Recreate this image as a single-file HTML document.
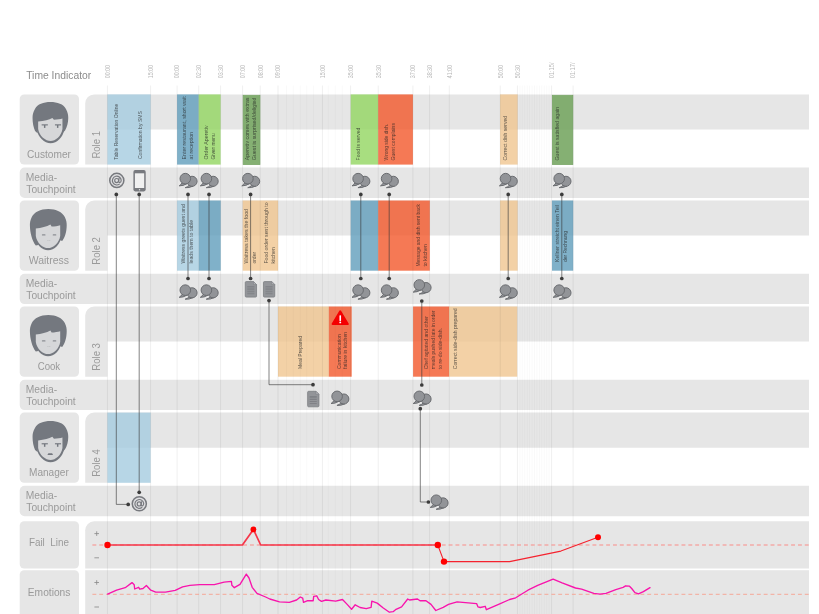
<!DOCTYPE html>
<html><head><meta charset="utf-8"><title>Service Blueprint</title>
<style>html,body{margin:0;padding:0;background:#fff;}body{width:819px;height:614px;overflow:hidden;font-family:"Liberation Sans",sans-serif;}svg{display:block;will-change:transform;}</style>
</head><body>
<svg width="819" height="614" viewBox="0 0 819 614" font-family="Liberation Sans, sans-serif">
<rect width="819" height="614" fill="#fff"/>
<text x="26.20" y="78.80" font-size="11.6" fill="#8c8c8c" text-anchor="start" textLength="65.0" lengthAdjust="spacingAndGlyphs" >Time Indicator</text>
<text transform="translate(109.75,78.3) rotate(-90)" font-size="6.3" fill="#b9b9b9" textLength="13.3" lengthAdjust="spacingAndGlyphs">00:00</text>
<text transform="translate(152.95,78.3) rotate(-90)" font-size="6.3" fill="#b9b9b9" textLength="13.3" lengthAdjust="spacingAndGlyphs">15:00</text>
<text transform="translate(179.45,78.3) rotate(-90)" font-size="6.3" fill="#b9b9b9" textLength="13.3" lengthAdjust="spacingAndGlyphs">00:00</text>
<text transform="translate(201.05,78.3) rotate(-90)" font-size="6.3" fill="#b9b9b9" textLength="13.3" lengthAdjust="spacingAndGlyphs">02:30</text>
<text transform="translate(222.95,78.3) rotate(-90)" font-size="6.3" fill="#b9b9b9" textLength="13.3" lengthAdjust="spacingAndGlyphs">03:30</text>
<text transform="translate(244.95,78.3) rotate(-90)" font-size="6.3" fill="#b9b9b9" textLength="13.3" lengthAdjust="spacingAndGlyphs">07:00</text>
<text transform="translate(262.55,78.3) rotate(-90)" font-size="6.3" fill="#b9b9b9" textLength="13.3" lengthAdjust="spacingAndGlyphs">08:00</text>
<text transform="translate(280.35,78.3) rotate(-90)" font-size="6.3" fill="#b9b9b9" textLength="13.3" lengthAdjust="spacingAndGlyphs">09:00</text>
<text transform="translate(324.75,78.3) rotate(-90)" font-size="6.3" fill="#b9b9b9" textLength="13.3" lengthAdjust="spacingAndGlyphs">15:00</text>
<text transform="translate(352.95,78.3) rotate(-90)" font-size="6.3" fill="#b9b9b9" textLength="13.3" lengthAdjust="spacingAndGlyphs">35:00</text>
<text transform="translate(380.55,78.3) rotate(-90)" font-size="6.3" fill="#b9b9b9" textLength="13.3" lengthAdjust="spacingAndGlyphs">35:30</text>
<text transform="translate(415.25,78.3) rotate(-90)" font-size="6.3" fill="#b9b9b9" textLength="13.3" lengthAdjust="spacingAndGlyphs">37:00</text>
<text transform="translate(431.95,78.3) rotate(-90)" font-size="6.3" fill="#b9b9b9" textLength="13.3" lengthAdjust="spacingAndGlyphs">38:30</text>
<text transform="translate(451.65,78.3) rotate(-90)" font-size="6.3" fill="#b9b9b9" textLength="13.3" lengthAdjust="spacingAndGlyphs">41:00</text>
<text transform="translate(502.55,78.3) rotate(-90)" font-size="6.3" fill="#b9b9b9" textLength="13.3" lengthAdjust="spacingAndGlyphs">50:00</text>
<text transform="translate(519.75,78.3) rotate(-90)" font-size="6.3" fill="#b9b9b9" textLength="13.3" lengthAdjust="spacingAndGlyphs">50:30</text>
<text transform="translate(553.95,78.3) rotate(-90)" font-size="6.3" fill="#b9b9b9" textLength="15.8" lengthAdjust="spacingAndGlyphs">01:15/</text>
<text transform="translate(575.45,78.3) rotate(-90)" font-size="6.3" fill="#b9b9b9" textLength="15.8" lengthAdjust="spacingAndGlyphs">01:17/</text>
<path d="M24.2,94.4 H74.5 A4.5,4.5 0 0 1 79.0,98.9 V160.10000000000002 A4.5,4.5 0 0 1 74.5,164.60000000000002 H24.2 A4.5,4.5 0 0 1 19.7,160.10000000000002 V98.9 A4.5,4.5 0 0 1 24.2,94.4 Z" fill="#e6e6e6"/>
<path d="M85.2,103.4 A9,9 0 0 1 94.2,94.4 H809.0 V129.5 H107.4 V164.60000000000002 H85.2 Z" fill="#e6e6e6"/>
<path d="M24.7,167.60000000000002 H809.0 V198.00000000000003 H24.7 A5,5 0 0 1 19.7,193.00000000000003 V172.60000000000002 A5,5 0 0 1 24.7,167.60000000000002 Z" fill="#e6e6e6"/>
<text x="27.00" y="158.00" font-size="10.8" fill="#9a9a9a" text-anchor="start" textLength="44.0" lengthAdjust="spacingAndGlyphs" >Customer</text>
<text transform="translate(100.3,158.60) rotate(-90)" font-size="11.3" fill="#9a9a9a" textLength="27.6" lengthAdjust="spacingAndGlyphs">Role 1</text>
<text x="25.70" y="180.70" font-size="11.0" fill="#9a9a9a" text-anchor="start" textLength="31.4" lengthAdjust="spacingAndGlyphs" >Media-</text>
<text x="26.30" y="192.90" font-size="11.0" fill="#9a9a9a" text-anchor="start" textLength="49.4" lengthAdjust="spacingAndGlyphs" >Touchpoint</text>
<path d="M24.2,200.5 H74.5 A4.5,4.5 0 0 1 79.0,205.0 V266.2 A4.5,4.5 0 0 1 74.5,270.7 H24.2 A4.5,4.5 0 0 1 19.7,266.2 V205.0 A4.5,4.5 0 0 1 24.2,200.5 Z" fill="#e6e6e6"/>
<path d="M85.2,209.5 A9,9 0 0 1 94.2,200.5 H809.0 V235.6 H107.4 V270.7 H85.2 Z" fill="#e6e6e6"/>
<path d="M24.7,273.7 H809.0 V304.09999999999997 H24.7 A5,5 0 0 1 19.7,299.09999999999997 V278.7 A5,5 0 0 1 24.7,273.7 Z" fill="#e6e6e6"/>
<text x="28.70" y="264.10" font-size="10.8" fill="#9a9a9a" text-anchor="start" textLength="40.3" lengthAdjust="spacingAndGlyphs" >Waitress</text>
<text transform="translate(100.3,264.70) rotate(-90)" font-size="11.3" fill="#9a9a9a" textLength="27.6" lengthAdjust="spacingAndGlyphs">Role 2</text>
<text x="25.70" y="286.80" font-size="11.0" fill="#9a9a9a" text-anchor="start" textLength="31.4" lengthAdjust="spacingAndGlyphs" >Media-</text>
<text x="26.30" y="299.00" font-size="11.0" fill="#9a9a9a" text-anchor="start" textLength="49.4" lengthAdjust="spacingAndGlyphs" >Touchpoint</text>
<path d="M24.2,306.5 H74.5 A4.5,4.5 0 0 1 79.0,311.0 V372.2 A4.5,4.5 0 0 1 74.5,376.7 H24.2 A4.5,4.5 0 0 1 19.7,372.2 V311.0 A4.5,4.5 0 0 1 24.2,306.5 Z" fill="#e6e6e6"/>
<path d="M85.2,315.5 A9,9 0 0 1 94.2,306.5 H809.0 V341.6 H107.4 V376.7 H85.2 Z" fill="#e6e6e6"/>
<path d="M24.7,379.7 H809.0 V410.09999999999997 H24.7 A5,5 0 0 1 19.7,405.09999999999997 V384.7 A5,5 0 0 1 24.7,379.7 Z" fill="#e6e6e6"/>
<text x="37.70" y="370.10" font-size="10.8" fill="#9a9a9a" text-anchor="start" textLength="22.5" lengthAdjust="spacingAndGlyphs" >Cook</text>
<text transform="translate(100.3,370.70) rotate(-90)" font-size="11.3" fill="#9a9a9a" textLength="27.6" lengthAdjust="spacingAndGlyphs">Role 3</text>
<text x="25.70" y="392.80" font-size="11.0" fill="#9a9a9a" text-anchor="start" textLength="31.4" lengthAdjust="spacingAndGlyphs" >Media-</text>
<text x="26.30" y="405.00" font-size="11.0" fill="#9a9a9a" text-anchor="start" textLength="49.4" lengthAdjust="spacingAndGlyphs" >Touchpoint</text>
<path d="M24.2,412.6 H74.5 A4.5,4.5 0 0 1 79.0,417.1 V478.3 A4.5,4.5 0 0 1 74.5,482.8 H24.2 A4.5,4.5 0 0 1 19.7,478.3 V417.1 A4.5,4.5 0 0 1 24.2,412.6 Z" fill="#e6e6e6"/>
<path d="M85.2,421.6 A9,9 0 0 1 94.2,412.6 H809.0 V447.70000000000005 H107.4 V482.8 H85.2 Z" fill="#e6e6e6"/>
<path d="M24.7,485.8 H809.0 V516.2 H24.7 A5,5 0 0 1 19.7,511.20000000000005 V490.8 A5,5 0 0 1 24.7,485.8 Z" fill="#e6e6e6"/>
<text x="29.00" y="476.20" font-size="10.8" fill="#9a9a9a" text-anchor="start" textLength="39.8" lengthAdjust="spacingAndGlyphs" >Manager</text>
<text transform="translate(100.3,476.80) rotate(-90)" font-size="11.3" fill="#9a9a9a" textLength="27.6" lengthAdjust="spacingAndGlyphs">Role 4</text>
<text x="25.70" y="498.90" font-size="11.0" fill="#9a9a9a" text-anchor="start" textLength="31.4" lengthAdjust="spacingAndGlyphs" >Media-</text>
<text x="26.30" y="511.10" font-size="11.0" fill="#9a9a9a" text-anchor="start" textLength="49.4" lengthAdjust="spacingAndGlyphs" >Touchpoint</text>
<g transform="translate(50.45,102.0)"><path d="M-13.6,12 L-13.6,28 C-12.6,35 -6,41.3 0.2,41.3 C6.4,41.3 12.8,35 13.6,28 L13.6,12 Z" fill="#74787f"/><path d="M0,0 C7,0 13,2 15.5,7 C17.4,10.5 17.8,13 17.8,16 C17.8,21 16.6,25 14.6,28.4 L12.6,30.6 L12,18 L-12,18 L-12.9,31.2 L-15.4,29 C-17,25 -17.9,21 -17.9,16 C-17.9,13 -17.5,10.5 -15.5,7 C-13,2 -7,0 0,0 Z" fill="#74787f"/><path d="M-12.3,19.6 C-6,18.8 -1.5,17.5 1.9,15.9 L3.5,17.8 C7,17.6 10,17.2 12,16.6 L12,27 C11,34 5,39.1 0.2,39.1 C-4.8,39.1 -11.3,34 -12.3,27 Z" fill="#d6d7d9"/><g fill="#74787f"><rect x="-8.8" y="22.3" width="6.2" height="1.15"/><rect x="-6.5" y="23" width="1.45" height="2.9"/><rect x="4.5" y="22.3" width="6.1" height="1.15"/><rect x="6.5" y="23" width="1.45" height="2.9"/></g></g>
<g transform="translate(48.3,208.9)"><path d="M-13.6,12 L-13.7,27 C-13,35 -6,41.3 -0.3,41.3 C6,41.3 12.4,35 13.2,27 L13.2,12 Z" fill="#74787f"/><path d="M0,0 C8,0 14,3 16.5,8 C18.2,11.5 18.4,14 18.4,16 C18.4,23 16.6,28.5 13.9,32 L11.4,31.2 L11.9,18 L-12.5,18 L-10.0,36.0 L-12.5,36.5 C-16,32 -18.4,24 -18.4,16 C-18.4,14 -18.2,11.5 -16.5,8 C-14,3 -8,0 0,0 Z" fill="#74787f"/><path d="M-12.5,19.7 C-7,19 -1.5,17.6 2.1,15.6 L3.3,17.7 C6.5,17.6 9.5,17.1 11.9,16.4 L11.9,27 C11,34 4.6,39.2 -0.3,39.2 C-5.2,39.2 -11.6,34 -12.5,27 Z" fill="#d6d7d9"/><g fill="#8b8e93"><rect x="-6.4" y="25.3" width="3.6" height="1.4" rx="0.6"/><rect x="4.4" y="25.3" width="3.6" height="1.4" rx="0.6"/></g><rect x="-0.9" y="31.2" width="1.1" height="0.6" fill="#b4b5b8"/><rect x="0.9" y="31.2" width="1.1" height="0.6" fill="#b4b5b8"/></g>
<g transform="translate(48.3,314.9)"><path d="M-13.6,12 L-13.7,27 C-13,35 -6,41.3 -0.3,41.3 C6,41.3 12.4,35 13.2,27 L13.2,12 Z" fill="#74787f"/><path d="M0,0 C8,0 14,3 16.5,8 C18.2,11.5 18.4,14 18.4,16 C18.4,23 16.6,28.5 13.9,32 L11.4,31.2 L11.9,18 L-12.5,18 L-10.0,36.0 L-12.5,36.5 C-16,32 -18.4,24 -18.4,16 C-18.4,14 -18.2,11.5 -16.5,8 C-14,3 -8,0 0,0 Z" fill="#74787f"/><path d="M-12.5,19.7 C-7,19 -1.5,17.6 2.1,15.6 L3.3,17.7 C6.5,17.6 9.5,17.1 11.9,16.4 L11.9,27 C11,34 4.6,39.2 -0.3,39.2 C-5.2,39.2 -11.6,34 -12.5,27 Z" fill="#d6d7d9"/><g fill="#8b8e93"><rect x="-6.4" y="25.3" width="3.6" height="1.4" rx="0.6"/><rect x="4.4" y="25.3" width="3.6" height="1.4" rx="0.6"/></g><rect x="-0.9" y="31.2" width="1.1" height="0.6" fill="#b4b5b8"/><rect x="0.9" y="31.2" width="1.1" height="0.6" fill="#b4b5b8"/></g>
<g transform="translate(50.45,420.9)"><path d="M-13.6,12 L-13.6,28 C-12.6,35 -6,41.3 0.2,41.3 C6.4,41.3 12.8,35 13.6,28 L13.6,12 Z" fill="#74787f"/><path d="M0,0 C7,0 13,2 15.5,7 C17.4,10.5 17.8,13 17.8,16 C17.8,21 16.6,25 14.6,28.4 L12.6,30.6 L12,18 L-12,18 L-12.9,31.2 L-15.4,29 C-17,25 -17.9,21 -17.9,16 C-17.9,13 -17.5,10.5 -15.5,7 C-13,2 -7,0 0,0 Z" fill="#74787f"/><path d="M-12.3,19.6 C-6,18.8 -1.5,17.5 1.9,15.9 L3.5,17.8 C7,17.6 10,17.2 12,16.6 L12,27 C11,34 5,39.1 0.2,39.1 C-4.8,39.1 -11.3,34 -12.3,27 Z" fill="#d6d7d9"/><g fill="#74787f"><rect x="-8.8" y="22.3" width="6.2" height="1.15"/><rect x="-6.5" y="23" width="1.45" height="2.9"/><rect x="4.5" y="22.3" width="6.1" height="1.15"/><rect x="6.5" y="23" width="1.45" height="2.9"/><path d="M-3.0,34.1 L-2.1,32.3 H1.7 L2.6,34.1 Z"/></g></g>
<path d="M24.2,521.3 H74.5 A4.5,4.5 0 0 1 79.0,525.8 V564.1 A4.5,4.5 0 0 1 74.5,568.6 H24.2 A4.5,4.5 0 0 1 19.7,564.1 V525.8 A4.5,4.5 0 0 1 24.2,521.3 Z" fill="#e6e6e6"/>
<path d="M94.2,521.3 H809.0 V568.6 H85.2 V530.3 A9,9 0 0 1 94.2,521.3 Z" fill="#e6e6e6"/>
<path d="M24.2,570.2 H74.5 A4.5,4.5 0 0 1 79.0,574.7 V619.5 A4.5,4.5 0 0 1 74.5,624 H24.2 A4.5,4.5 0 0 1 19.7,619.5 V574.7 A4.5,4.5 0 0 1 24.2,570.2 Z" fill="#e6e6e6"/>
<rect x="85.2" y="570.2" width="723.8" height="48.799999999999955" fill="#e6e6e6"/>
<text x="28.9" y="546.3" font-size="11.6" fill="#9a9a9a" textLength="40" lengthAdjust="spacingAndGlyphs" style="white-space:pre">Fail  Line</text>
<text x="27.80" y="595.80" font-size="11.6" fill="#9a9a9a" text-anchor="start" textLength="42.6" lengthAdjust="spacingAndGlyphs" >Emotions</text>
<path d="M94.4,533.6 h4.6 M96.7,531.3000000000001 v4.6" stroke="#8c8c8c" stroke-width="0.85" fill="none"/>
<path d="M94.4,582.5 h4.6 M96.7,580.2 v4.6" stroke="#8c8c8c" stroke-width="0.85" fill="none"/>
<path d="M94.4,557.8 h4.6" stroke="#8c8c8c" stroke-width="0.85" fill="none"/>
<path d="M94.4,607.0 h4.6" stroke="#8c8c8c" stroke-width="0.85" fill="none"/>
<rect x="107.4" y="94.4" width="43.19999999999999" height="70.2" fill="rgba(163,203,223,0.78)"/>
<rect x="177.1" y="94.4" width="21.599999999999994" height="70.2" fill="rgba(96,158,188,0.80)"/>
<rect x="198.7" y="94.4" width="21.900000000000006" height="70.2" fill="rgba(146,214,96,0.80)"/>
<rect x="243.20000000000002" y="95.30000000000001" width="16.7" height="69.2" fill="rgba(112,162,90,0.85)" stroke="#7ba768" stroke-width="0.8"/>
<rect x="350.7" y="94.4" width="27.5" height="70.2" fill="rgba(146,214,96,0.80)"/>
<rect x="378.2" y="94.4" width="34.69999999999999" height="70.2" fill="rgba(243,88,43,0.80)"/>
<rect x="500.1" y="94.4" width="17.5" height="70.2" fill="rgba(239,196,141,0.78)"/>
<rect x="552.4" y="95.30000000000001" width="20.400000000000045" height="69.2" fill="rgba(112,162,90,0.85)" stroke="#7ba768" stroke-width="0.8"/>
<rect x="177.1" y="200.5" width="21.700000000000017" height="70.2" fill="rgba(163,203,223,0.78)"/>
<rect x="198.8" y="200.5" width="21.899999999999977" height="70.2" fill="rgba(96,158,188,0.80)"/>
<rect x="242.7" y="200.5" width="35.400000000000034" height="70.2" fill="rgba(239,196,141,0.78)"/>
<rect x="350.7" y="200.5" width="27.5" height="70.2" fill="rgba(96,158,188,0.80)"/>
<rect x="378.2" y="200.5" width="51.60000000000002" height="70.2" fill="rgba(243,88,43,0.80)"/>
<rect x="500.1" y="200.5" width="17.5" height="70.2" fill="rgba(239,196,141,0.78)"/>
<rect x="552.0" y="200.5" width="21.200000000000045" height="70.2" fill="rgba(96,158,188,0.80)"/>
<rect x="278.0" y="306.5" width="50.80000000000001" height="70.2" fill="rgba(239,196,141,0.78)"/>
<rect x="328.8" y="306.5" width="22.899999999999977" height="70.2" fill="rgba(243,88,43,0.80)"/>
<rect x="413.1" y="306.5" width="36.0" height="70.2" fill="rgba(243,88,43,0.80)"/>
<rect x="449.1" y="306.5" width="68.10000000000002" height="70.2" fill="rgba(239,196,141,0.78)"/>
<rect x="107.4" y="412.6" width="43.19999999999999" height="70.2" fill="rgba(163,203,223,0.78)"/>
<text transform="translate(118.20,159.70) rotate(-90)" font-size="5.0" fill="#222" fill-opacity="0.72" textLength="56.0" lengthAdjust="spacingAndGlyphs">Table Reservation Online</text>
<text transform="translate(141.70,159.10) rotate(-90)" font-size="5.0" fill="#222" fill-opacity="0.72" textLength="48.0" lengthAdjust="spacingAndGlyphs">Confirmation by SMS</text>
<text transform="translate(185.60,159.40) rotate(-90)" font-size="5.0" fill="#222" fill-opacity="0.72" textLength="63.0" lengthAdjust="spacingAndGlyphs">Enter restaurant, short wait</text>
<text transform="translate(192.90,159.40) rotate(-90)" font-size="5.0" fill="#222" fill-opacity="0.72" textLength="27.5" lengthAdjust="spacingAndGlyphs">at reception</text>
<text transform="translate(207.60,159.40) rotate(-90)" font-size="5.0" fill="#222" fill-opacity="0.72" textLength="34.0" lengthAdjust="spacingAndGlyphs">Order Aperetiv</text>
<text transform="translate(214.90,159.40) rotate(-90)" font-size="5.0" fill="#222" fill-opacity="0.72" textLength="26.0" lengthAdjust="spacingAndGlyphs">Given menu</text>
<text transform="translate(248.70,160.20) rotate(-90)" font-size="5.0" fill="#222" fill-opacity="0.72" textLength="62.7" lengthAdjust="spacingAndGlyphs">Aperetiv comes with extras</text>
<text transform="translate(255.80,160.20) rotate(-90)" font-size="5.0" fill="#222" fill-opacity="0.72" textLength="62.7" lengthAdjust="spacingAndGlyphs">Guest is surprised/deligted</text>
<text transform="translate(359.70,160.40) rotate(-90)" font-size="5.0" fill="#222" fill-opacity="0.72" textLength="32.6" lengthAdjust="spacingAndGlyphs">Food is served</text>
<text transform="translate(388.30,160.40) rotate(-90)" font-size="5.0" fill="#222" fill-opacity="0.72" textLength="36.4" lengthAdjust="spacingAndGlyphs">Wrong side dish.</text>
<text transform="translate(395.30,160.40) rotate(-90)" font-size="5.0" fill="#222" fill-opacity="0.72" textLength="37.3" lengthAdjust="spacingAndGlyphs">Guest complains</text>
<text transform="translate(507.20,160.40) rotate(-90)" font-size="5.0" fill="#222" fill-opacity="0.72" textLength="44.6" lengthAdjust="spacingAndGlyphs">Correct dish served</text>
<text transform="translate(558.50,160.40) rotate(-90)" font-size="5.0" fill="#222" fill-opacity="0.72" textLength="53.5" lengthAdjust="spacingAndGlyphs">Guest is satisfied again</text>
<text transform="translate(185.40,263.60) rotate(-90)" font-size="5.0" fill="#222" fill-opacity="0.72" textLength="59.4" lengthAdjust="spacingAndGlyphs">Waitress greets guest and</text>
<text transform="translate(192.70,263.60) rotate(-90)" font-size="5.0" fill="#222" fill-opacity="0.72" textLength="43.6" lengthAdjust="spacingAndGlyphs">leads them to table</text>
<text transform="translate(248.40,263.60) rotate(-90)" font-size="5.0" fill="#222" fill-opacity="0.72" textLength="54.6" lengthAdjust="spacingAndGlyphs">Waitress takes the food</text>
<text transform="translate(255.70,263.60) rotate(-90)" font-size="5.0" fill="#222" fill-opacity="0.72" textLength="11.7" lengthAdjust="spacingAndGlyphs">order</text>
<text transform="translate(268.20,263.60) rotate(-90)" font-size="5.0" fill="#222" fill-opacity="0.72" textLength="61.2" lengthAdjust="spacingAndGlyphs">Food order sent through to</text>
<text transform="translate(274.80,263.60) rotate(-90)" font-size="5.0" fill="#222" fill-opacity="0.72" textLength="16.5" lengthAdjust="spacingAndGlyphs">kitchen</text>
<text transform="translate(420.30,266.60) rotate(-90)" font-size="5.0" fill="#222" fill-opacity="0.72" textLength="62.5" lengthAdjust="spacingAndGlyphs">Message and dish sent back</text>
<text transform="translate(427.10,266.60) rotate(-90)" font-size="5.0" fill="#222" fill-opacity="0.72" textLength="22.4" lengthAdjust="spacingAndGlyphs">to kitchen</text>
<text transform="translate(559.00,261.90) rotate(-90)" font-size="5.0" fill="#222" fill-opacity="0.72" textLength="56.8" lengthAdjust="spacingAndGlyphs">Kellner streicht einen Teil</text>
<text transform="translate(566.70,261.90) rotate(-90)" font-size="5.0" fill="#222" fill-opacity="0.72" textLength="30.9" lengthAdjust="spacingAndGlyphs">der Rechnung</text>
<text transform="translate(301.90,369.00) rotate(-90)" font-size="5.0" fill="#222" fill-opacity="0.72" textLength="33.0" lengthAdjust="spacingAndGlyphs">Meal Prepared</text>
<text transform="translate(340.60,369.00) rotate(-90)" font-size="5.0" fill="#222" fill-opacity="0.72" textLength="34.7" lengthAdjust="spacingAndGlyphs">Communication</text>
<text transform="translate(347.30,369.00) rotate(-90)" font-size="5.0" fill="#222" fill-opacity="0.72" textLength="37.2" lengthAdjust="spacingAndGlyphs">failure in kitchen</text>
<text transform="translate(428.20,369.20) rotate(-90)" font-size="5.0" fill="#222" fill-opacity="0.72" textLength="53.2" lengthAdjust="spacingAndGlyphs">Chef agitated and other</text>
<text transform="translate(435.40,369.20) rotate(-90)" font-size="5.0" fill="#222" fill-opacity="0.72" textLength="59.0" lengthAdjust="spacingAndGlyphs">meals pushed late in order</text>
<text transform="translate(442.40,369.20) rotate(-90)" font-size="5.0" fill="#222" fill-opacity="0.72" textLength="41.3" lengthAdjust="spacingAndGlyphs">to re-do side-dish.</text>
<text transform="translate(456.80,369.20) rotate(-90)" font-size="5.0" fill="#222" fill-opacity="0.72" textLength="60.8" lengthAdjust="spacingAndGlyphs">Correct side-dish prepared</text>
<path d="M340.2,311.3 L347.8,324.1 H332.59999999999997 Z" fill="#f50000" stroke="#f50000" stroke-width="2" stroke-linejoin="round"/><rect x="339.45" y="315.2" width="1.6" height="5.9" rx="0.6" fill="#fff"/><circle cx="340.25" cy="322.40000000000003" r="0.95" fill="#fff"/>
<rect x="106.90" y="85.5" width="1" height="528.5" fill="#000" fill-opacity="0.062"/>
<rect x="150.10" y="85.5" width="1" height="528.5" fill="#000" fill-opacity="0.062"/>
<rect x="176.60" y="85.5" width="1" height="528.5" fill="#000" fill-opacity="0.062"/>
<rect x="198.20" y="85.5" width="1" height="528.5" fill="#000" fill-opacity="0.062"/>
<rect x="220.10" y="85.5" width="1" height="528.5" fill="#000" fill-opacity="0.062"/>
<rect x="242.10" y="85.5" width="1" height="528.5" fill="#000" fill-opacity="0.062"/>
<rect x="259.70" y="85.5" width="1" height="528.5" fill="#000" fill-opacity="0.062"/>
<rect x="277.50" y="85.5" width="1" height="528.5" fill="#000" fill-opacity="0.062"/>
<rect x="321.90" y="85.5" width="1" height="528.5" fill="#000" fill-opacity="0.062"/>
<rect x="350.10" y="85.5" width="1" height="528.5" fill="#000" fill-opacity="0.062"/>
<rect x="377.70" y="85.5" width="1" height="528.5" fill="#000" fill-opacity="0.062"/>
<rect x="412.40" y="85.5" width="1" height="528.5" fill="#000" fill-opacity="0.062"/>
<rect x="429.10" y="85.5" width="1" height="528.5" fill="#000" fill-opacity="0.062"/>
<rect x="448.80" y="85.5" width="1" height="528.5" fill="#000" fill-opacity="0.062"/>
<rect x="499.70" y="85.5" width="1" height="528.5" fill="#000" fill-opacity="0.062"/>
<rect x="516.90" y="85.5" width="1" height="528.5" fill="#000" fill-opacity="0.062"/>
<rect x="551.10" y="85.5" width="1" height="528.5" fill="#000" fill-opacity="0.062"/>
<rect x="572.60" y="85.5" width="1" height="528.5" fill="#000" fill-opacity="0.062"/>
<rect x="286.00" y="85.5" width="1" height="528.5" fill="#000" fill-opacity="0.024"/>
<rect x="292.80" y="85.5" width="1" height="528.5" fill="#000" fill-opacity="0.024"/>
<rect x="299.70" y="85.5" width="1" height="528.5" fill="#000" fill-opacity="0.024"/>
<rect x="306.20" y="85.5" width="1" height="528.5" fill="#000" fill-opacity="0.024"/>
<rect x="313.10" y="85.5" width="1" height="528.5" fill="#000" fill-opacity="0.024"/>
<rect x="327.70" y="85.5" width="1" height="528.5" fill="#000" fill-opacity="0.024"/>
<rect x="334.80" y="85.5" width="1" height="528.5" fill="#000" fill-opacity="0.024"/>
<rect x="341.80" y="85.5" width="1" height="528.5" fill="#000" fill-opacity="0.024"/>
<rect x="519.34" y="85.5" width="1" height="528.5" fill="#000" fill-opacity="0.024"/>
<rect x="521.79" y="85.5" width="1" height="528.5" fill="#000" fill-opacity="0.024"/>
<rect x="524.23" y="85.5" width="1" height="528.5" fill="#000" fill-opacity="0.024"/>
<rect x="526.67" y="85.5" width="1" height="528.5" fill="#000" fill-opacity="0.024"/>
<rect x="529.12" y="85.5" width="1" height="528.5" fill="#000" fill-opacity="0.024"/>
<rect x="531.56" y="85.5" width="1" height="528.5" fill="#000" fill-opacity="0.024"/>
<rect x="534.00" y="85.5" width="1" height="528.5" fill="#000" fill-opacity="0.024"/>
<rect x="536.44" y="85.5" width="1" height="528.5" fill="#000" fill-opacity="0.024"/>
<rect x="538.89" y="85.5" width="1" height="528.5" fill="#000" fill-opacity="0.024"/>
<rect x="541.33" y="85.5" width="1" height="528.5" fill="#000" fill-opacity="0.024"/>
<rect x="543.77" y="85.5" width="1" height="528.5" fill="#000" fill-opacity="0.024"/>
<rect x="546.22" y="85.5" width="1" height="528.5" fill="#000" fill-opacity="0.024"/>
<rect x="548.66" y="85.5" width="1" height="528.5" fill="#000" fill-opacity="0.024"/>
<path d="M188.0,194.4 L188.0,278.5" fill="none" stroke="#383838" stroke-opacity="0.62" stroke-width="1"/>
<circle cx="188.0" cy="194.4" r="1.85" fill="#3c3c3c"/>
<circle cx="188.0" cy="278.5" r="1.85" fill="#3c3c3c"/>
<path d="M209.0,194.4 L209.0,278.5" fill="none" stroke="#383838" stroke-opacity="0.62" stroke-width="1"/>
<circle cx="209.0" cy="194.4" r="1.85" fill="#3c3c3c"/>
<circle cx="209.0" cy="278.5" r="1.85" fill="#3c3c3c"/>
<path d="M250.6,194.4 L250.6,278.5" fill="none" stroke="#383838" stroke-opacity="0.62" stroke-width="1"/>
<circle cx="250.6" cy="194.4" r="1.85" fill="#3c3c3c"/>
<circle cx="250.6" cy="278.5" r="1.85" fill="#3c3c3c"/>
<path d="M360.8,194.4 L360.8,278.5" fill="none" stroke="#383838" stroke-opacity="0.62" stroke-width="1"/>
<circle cx="360.8" cy="194.4" r="1.85" fill="#3c3c3c"/>
<circle cx="360.8" cy="278.5" r="1.85" fill="#3c3c3c"/>
<path d="M389.2,194.4 L389.2,278.5" fill="none" stroke="#383838" stroke-opacity="0.62" stroke-width="1"/>
<circle cx="389.2" cy="194.4" r="1.85" fill="#3c3c3c"/>
<circle cx="389.2" cy="278.5" r="1.85" fill="#3c3c3c"/>
<path d="M508.2,194.4 L508.2,278.5" fill="none" stroke="#383838" stroke-opacity="0.62" stroke-width="1"/>
<circle cx="508.2" cy="194.4" r="1.85" fill="#3c3c3c"/>
<circle cx="508.2" cy="278.5" r="1.85" fill="#3c3c3c"/>
<path d="M561.8,194.4 L561.8,278.5" fill="none" stroke="#383838" stroke-opacity="0.62" stroke-width="1"/>
<circle cx="561.8" cy="194.4" r="1.85" fill="#3c3c3c"/>
<circle cx="561.8" cy="278.5" r="1.85" fill="#3c3c3c"/>
<path d="M116.3,194.4 L116.3,504.4 L128.0,504.4" fill="none" stroke="#383838" stroke-opacity="0.62" stroke-width="1"/>
<circle cx="116.3" cy="194.4" r="1.85" fill="#3c3c3c"/>
<circle cx="128.2" cy="504.4" r="1.85" fill="#3c3c3c"/>
<path d="M139.2,194.4 L139.2,492.3" fill="none" stroke="#383838" stroke-opacity="0.62" stroke-width="1"/>
<circle cx="139.2" cy="194.4" r="1.85" fill="#3c3c3c"/>
<circle cx="139.2" cy="492.3" r="1.85" fill="#3c3c3c"/>
<path d="M269.0,300.6 L269.0,384.7 L313.0,384.7" fill="none" stroke="#383838" stroke-opacity="0.62" stroke-width="1"/>
<circle cx="269.0" cy="300.6" r="1.85" fill="#3c3c3c"/>
<circle cx="313.0" cy="384.7" r="1.85" fill="#3c3c3c"/>
<path d="M421.8,301.0 L421.8,385.0" fill="none" stroke="#383838" stroke-opacity="0.62" stroke-width="1"/>
<circle cx="421.8" cy="301.0" r="1.85" fill="#3c3c3c"/>
<circle cx="421.8" cy="385.0" r="1.85" fill="#3c3c3c"/>
<path d="M420.3,408.7 L420.3,502.0 L428.4,502.0" fill="none" stroke="#383838" stroke-opacity="0.62" stroke-width="1"/>
<circle cx="420.3" cy="408.7" r="1.85" fill="#3c3c3c"/>
<circle cx="428.4" cy="502.0" r="1.85" fill="#3c3c3c"/>
<circle cx="116.8" cy="180.4" r="7.05" fill="#dedee0" stroke="#77797e" stroke-width="1.5"/><g fill="none" stroke="#77797e" stroke-width="1.15" stroke-linecap="round"><path d="M119.40,184.10 A4.4,4.4 0 1 1 121.20,180.20 C121.20,182.70 118.80,183.30 118.70,181.30 L119.00,178.40"/><ellipse cx="116.65" cy="180.55" rx="1.95" ry="2.05"/></g>
<rect x="133.4" y="170.1" width="12.3" height="21.3" rx="1.8" fill="#77797e"/><rect x="134.9" y="173.29999999999998" width="9.3" height="14.700000000000001" fill="#f0f0f0"/><circle cx="139.55" cy="189.70000000000002" r="0.7" fill="#e0e0e0"/>
<g fill="#929498" stroke="#6a6c70" stroke-width="1.0" stroke-linejoin="round"><path d="M189.05,185.30 Q187.65,187.00 185.15,187.70 Q189.05,188.10 193.05,186.10 Z"/><circle cx="192.05" cy="181.30" r="5.05"/><path d="M182.10,182.85 Q181.10,184.75 179.20,185.85 Q183.30,185.95 186.90,183.65 Z"/><circle cx="185.30" cy="178.65" r="5.3"/></g>
<g fill="#929498" stroke="#6a6c70" stroke-width="1.0" stroke-linejoin="round"><path d="M210.15,185.30 Q208.75,187.00 206.25,187.70 Q210.15,188.10 214.15,186.10 Z"/><circle cx="213.15" cy="181.30" r="5.05"/><path d="M203.20,182.85 Q202.20,184.75 200.30,185.85 Q204.40,185.95 208.00,183.65 Z"/><circle cx="206.40" cy="178.65" r="5.3"/></g>
<g fill="#929498" stroke="#6a6c70" stroke-width="1.0" stroke-linejoin="round"><path d="M251.65,185.30 Q250.25,187.00 247.75,187.70 Q251.65,188.10 255.65,186.10 Z"/><circle cx="254.65" cy="181.30" r="5.05"/><path d="M244.70,182.85 Q243.70,184.75 241.80,185.85 Q245.90,185.95 249.50,183.65 Z"/><circle cx="247.90" cy="178.65" r="5.3"/></g>
<g fill="#929498" stroke="#6a6c70" stroke-width="1.0" stroke-linejoin="round"><path d="M361.85,185.30 Q360.45,187.00 357.95,187.70 Q361.85,188.10 365.85,186.10 Z"/><circle cx="364.85" cy="181.30" r="5.05"/><path d="M354.90,182.85 Q353.90,184.75 352.00,185.85 Q356.10,185.95 359.70,183.65 Z"/><circle cx="358.10" cy="178.65" r="5.3"/></g>
<g fill="#929498" stroke="#6a6c70" stroke-width="1.0" stroke-linejoin="round"><path d="M390.35,185.30 Q388.95,187.00 386.45,187.70 Q390.35,188.10 394.35,186.10 Z"/><circle cx="393.35" cy="181.30" r="5.05"/><path d="M383.40,182.85 Q382.40,184.75 380.50,185.85 Q384.60,185.95 388.20,183.65 Z"/><circle cx="386.60" cy="178.65" r="5.3"/></g>
<g fill="#929498" stroke="#6a6c70" stroke-width="1.0" stroke-linejoin="round"><path d="M509.25,185.30 Q507.85,187.00 505.35,187.70 Q509.25,188.10 513.25,186.10 Z"/><circle cx="512.25" cy="181.30" r="5.05"/><path d="M502.30,182.85 Q501.30,184.75 499.40,185.85 Q503.50,185.95 507.10,183.65 Z"/><circle cx="505.50" cy="178.65" r="5.3"/></g>
<g fill="#929498" stroke="#6a6c70" stroke-width="1.0" stroke-linejoin="round"><path d="M562.95,185.30 Q561.55,187.00 559.05,187.70 Q562.95,188.10 566.95,186.10 Z"/><circle cx="565.95" cy="181.30" r="5.05"/><path d="M556.00,182.85 Q555.00,184.75 553.10,185.85 Q557.20,185.95 560.80,183.65 Z"/><circle cx="559.20" cy="178.65" r="5.3"/></g>
<g fill="#929498" stroke="#6a6c70" stroke-width="1.0" stroke-linejoin="round"><path d="M189.05,296.80 Q187.65,298.50 185.15,299.20 Q189.05,299.60 193.05,297.60 Z"/><circle cx="192.05" cy="292.80" r="5.05"/><path d="M182.10,294.35 Q181.10,296.25 179.20,297.35 Q183.30,297.45 186.90,295.15 Z"/><circle cx="185.30" cy="290.15" r="5.3"/></g>
<g fill="#929498" stroke="#6a6c70" stroke-width="1.0" stroke-linejoin="round"><path d="M210.15,296.80 Q208.75,298.50 206.25,299.20 Q210.15,299.60 214.15,297.60 Z"/><circle cx="213.15" cy="292.80" r="5.05"/><path d="M203.20,294.35 Q202.20,296.25 200.30,297.35 Q204.40,297.45 208.00,295.15 Z"/><circle cx="206.40" cy="290.15" r="5.3"/></g>
<g fill="#929498" stroke="#6a6c70" stroke-width="1.0" stroke-linejoin="round"><path d="M361.85,296.80 Q360.45,298.50 357.95,299.20 Q361.85,299.60 365.85,297.60 Z"/><circle cx="364.85" cy="292.80" r="5.05"/><path d="M354.90,294.35 Q353.90,296.25 352.00,297.35 Q356.10,297.45 359.70,295.15 Z"/><circle cx="358.10" cy="290.15" r="5.3"/></g>
<g fill="#929498" stroke="#6a6c70" stroke-width="1.0" stroke-linejoin="round"><path d="M390.35,296.80 Q388.95,298.50 386.45,299.20 Q390.35,299.60 394.35,297.60 Z"/><circle cx="393.35" cy="292.80" r="5.05"/><path d="M383.40,294.35 Q382.40,296.25 380.50,297.35 Q384.60,297.45 388.20,295.15 Z"/><circle cx="386.60" cy="290.15" r="5.3"/></g>
<g fill="#929498" stroke="#6a6c70" stroke-width="1.0" stroke-linejoin="round"><path d="M509.25,296.80 Q507.85,298.50 505.35,299.20 Q509.25,299.60 513.25,297.60 Z"/><circle cx="512.25" cy="292.80" r="5.05"/><path d="M502.30,294.35 Q501.30,296.25 499.40,297.35 Q503.50,297.45 507.10,295.15 Z"/><circle cx="505.50" cy="290.15" r="5.3"/></g>
<g fill="#929498" stroke="#6a6c70" stroke-width="1.0" stroke-linejoin="round"><path d="M562.95,296.80 Q561.55,298.50 559.05,299.20 Q562.95,299.60 566.95,297.60 Z"/><circle cx="565.95" cy="292.80" r="5.05"/><path d="M556.00,294.35 Q555.00,296.25 553.10,297.35 Q557.20,297.45 560.80,295.15 Z"/><circle cx="559.20" cy="290.15" r="5.3"/></g>
<g fill="#929498" stroke="#6a6c70" stroke-width="1.0" stroke-linejoin="round"><path d="M423.05,291.60 Q421.65,293.30 419.15,294.00 Q423.05,294.40 427.05,292.40 Z"/><circle cx="426.05" cy="287.60" r="5.05"/><path d="M416.10,289.15 Q415.10,291.05 413.20,292.15 Q417.30,292.25 420.90,289.95 Z"/><circle cx="419.30" cy="284.95" r="5.3"/></g>
<path d="M246.25,281.59999999999997 H253.55 L256.55,284.59999999999997 V296.09999999999997 a1,1 0 0 1 -1,1 H246.25 a1,1 0 0 1 -1,-1 V282.59999999999997 a1,1 0 0 1 1,-1 Z" fill="#939599" stroke="#7b7d82" stroke-width="0.8"/><path d="M253.55,281.59999999999997 V284.59999999999997 H256.55 Z" fill="#b4b5b8" stroke="#7b7d82" stroke-width="0.5"/><rect x="247.25" y="286.3" width="7.1000000000000005" height="0.8" fill="#7b7d82"/><rect x="247.25" y="287.7" width="7.1000000000000005" height="0.8" fill="#7b7d82"/><rect x="247.25" y="289.4" width="7.1000000000000005" height="0.8" fill="#7b7d82"/><rect x="247.25" y="291.4" width="7.1000000000000005" height="0.8" fill="#7b7d82"/><rect x="247.25" y="293.4" width="7.1000000000000005" height="0.8" fill="#7b7d82"/>
<path d="M264.45000000000005,281.59999999999997 H271.75000000000006 L274.75000000000006,284.59999999999997 V296.09999999999997 a1,1 0 0 1 -1,1 H264.45000000000005 a1,1 0 0 1 -1,-1 V282.59999999999997 a1,1 0 0 1 1,-1 Z" fill="#939599" stroke="#7b7d82" stroke-width="0.8"/><path d="M271.75000000000006,281.59999999999997 V284.59999999999997 H274.75000000000006 Z" fill="#b4b5b8" stroke="#7b7d82" stroke-width="0.5"/><rect x="265.45000000000005" y="286.3" width="7.1000000000000005" height="0.8" fill="#7b7d82"/><rect x="265.45000000000005" y="287.7" width="7.1000000000000005" height="0.8" fill="#7b7d82"/><rect x="265.45000000000005" y="289.4" width="7.1000000000000005" height="0.8" fill="#7b7d82"/><rect x="265.45000000000005" y="291.4" width="7.1000000000000005" height="0.8" fill="#7b7d82"/><rect x="265.45000000000005" y="293.4" width="7.1000000000000005" height="0.8" fill="#7b7d82"/>
<path d="M308.65000000000003,391.3 H315.95000000000005 L318.95000000000005,394.3 V405.8 a1,1 0 0 1 -1,1 H308.65000000000003 a1,1 0 0 1 -1,-1 V392.3 a1,1 0 0 1 1,-1 Z" fill="#939599" stroke="#7b7d82" stroke-width="0.8"/><path d="M315.95000000000005,391.3 V394.3 H318.95000000000005 Z" fill="#b4b5b8" stroke="#7b7d82" stroke-width="0.5"/><rect x="309.65000000000003" y="396.00000000000006" width="7.1000000000000005" height="0.8" fill="#7b7d82"/><rect x="309.65000000000003" y="397.40000000000003" width="7.1000000000000005" height="0.8" fill="#7b7d82"/><rect x="309.65000000000003" y="399.1" width="7.1000000000000005" height="0.8" fill="#7b7d82"/><rect x="309.65000000000003" y="401.1" width="7.1000000000000005" height="0.8" fill="#7b7d82"/><rect x="309.65000000000003" y="403.1" width="7.1000000000000005" height="0.8" fill="#7b7d82"/>
<g fill="#929498" stroke="#6a6c70" stroke-width="1.0" stroke-linejoin="round"><path d="M340.85,403.00 Q339.45,404.70 336.95,405.40 Q340.85,405.80 344.85,403.80 Z"/><circle cx="343.85" cy="399.00" r="5.05"/><path d="M333.90,400.55 Q332.90,402.45 331.00,403.55 Q335.10,403.65 338.70,401.35 Z"/><circle cx="337.10" cy="396.35" r="5.3"/></g>
<g fill="#929498" stroke="#6a6c70" stroke-width="1.0" stroke-linejoin="round"><path d="M423.05,403.00 Q421.65,404.70 419.15,405.40 Q423.05,405.80 427.05,403.80 Z"/><circle cx="426.05" cy="399.00" r="5.05"/><path d="M416.10,400.55 Q415.10,402.45 413.20,403.55 Q417.30,403.65 420.90,401.35 Z"/><circle cx="419.30" cy="396.35" r="5.3"/></g>
<circle cx="139.3" cy="503.8" r="7.05" fill="#dedee0" stroke="#77797e" stroke-width="1.5"/><g fill="none" stroke="#77797e" stroke-width="1.15" stroke-linecap="round"><path d="M141.90,507.50 A4.4,4.4 0 1 1 143.70,503.60 C143.70,506.10 141.30,506.70 141.20,504.70 L141.50,501.80"/><ellipse cx="139.15" cy="503.95" rx="1.95" ry="2.05"/></g>
<g fill="#929498" stroke="#6a6c70" stroke-width="1.0" stroke-linejoin="round"><path d="M440.05,506.90 Q438.65,508.60 436.15,509.30 Q440.05,509.70 444.05,507.70 Z"/><circle cx="443.05" cy="502.90" r="5.05"/><path d="M433.10,504.45 Q432.10,506.35 430.20,507.45 Q434.30,507.55 437.90,505.25 Z"/><circle cx="436.30" cy="500.25" r="5.3"/></g>
<path d="M92.4,545 H809" fill="none" stroke="#fa8c88" stroke-width="1.15" stroke-dasharray="3.9 2.95"/>
<path d="M92.4,594.3 H809" fill="none" stroke="#f7a08e" stroke-width="0.9" stroke-dasharray="3.9 2.95"/>
<path d="M107.5,545 H242.4 L253.4,529.4 L260.7,545 H437.8" fill="none" stroke="#f5364a" stroke-width="1.7" stroke-linejoin="round"/>
<path d="M437.8,545 L444.0,561.6 H509.6 L560.9,551.1 L598,537.2" fill="none" stroke="#f5222e" stroke-width="1.1" stroke-linejoin="round"/>
<circle cx="107.5" cy="545" r="3.2" fill="#ff0000"/>
<circle cx="253.4" cy="529.4" r="2.9" fill="#ff0000"/>
<circle cx="437.8" cy="545" r="3.2" fill="#ff0000"/>
<circle cx="444.0" cy="561.6" r="3.2" fill="#ff0000"/>
<circle cx="598.0" cy="537.2" r="3.0" fill="#ff0000"/>
<path d="M107.6,594.1 L116.6,590.2 L125.2,587.7 L132,582.6 L134.2,584.8 L134.7,589 L138.6,587.3 L139.8,589.2 L143,588.5 L146.4,585.5 L150.8,590.2 L155.7,592.1 L165.5,592.1 L175.2,590.4 L182.6,586.8 L189.9,585.3 L199.7,584.6 L214.3,584.6 L224.1,582.1 L231.4,581.4 L231.9,585.3 L234.3,587.7 L240,584.3 L246.3,574.1 L249,578 L252.2,587.3 L257,593.4 L265.6,597 L269.8,599 L279.5,601.9 L289.3,602.4 L296.6,600 L300.3,597 L302.7,598.2 L303.5,602.4 L307.6,600.7 L313.2,600.7 L313.7,596.3 L316.7,595.8 L318.6,599.5 L321.5,601.4 L325.9,600 L335.7,601.2 L342.5,599.5 L346.7,603.9 L351.6,609.2 L355.2,604.8 L360.1,607.5 L366.2,608.7 L371.1,607.3 L371.8,601.2 L377.2,603.1 L383.3,608 L389.4,612.2 L393.1,611.7 L395.5,609.7 L401.6,606.8 L407.7,599 L409.5,600 L417.5,599 L420,600.7 L426,600.7 L431,604.4 L435.8,610.5 L443.2,607.3 L448.5,604.4 L457.1,601.9 L476.6,603.6 L477.9,606.8 L480.3,607.5 L485.2,606.3 L486.4,609.7 L498.6,604.4 L509.6,599.5 L515.7,597.8 L527.9,590.2 L537.7,585.3 L553.1,579.2 L562.1,582.9 L575.5,588 L581.6,589.2 L593.8,593.4 L600,594.1 L606,593.4 L615.8,589.7 L623.1,587.3 L625.6,585.8 L629.5,586.2 L631.7,588.5 L634.9,592.6 L638.5,593.9 L643.4,591.7 L650,587.7" fill="none" stroke="#f814ac" stroke-width="1.35" stroke-linejoin="round" stroke-linecap="round"/>
</svg>
</body></html>
